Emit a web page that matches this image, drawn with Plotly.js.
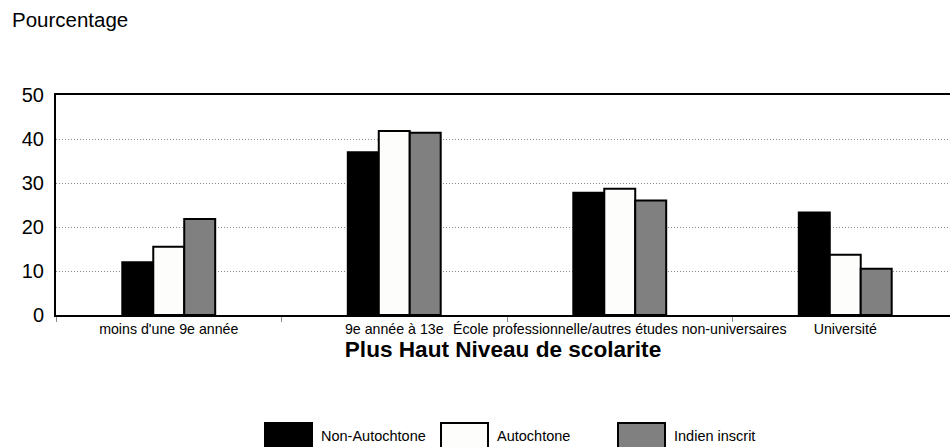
<!DOCTYPE html>
<html>
<head>
<meta charset="utf-8">
<script src="https://cdn.plot.ly/plotly-3.0.1.min.js"></script>
<style>
html,body{margin:0;padding:0;background:#fff;overflow:hidden;}
#chart{width:950px;height:447px;}
</style>
</head>
<body>
<div id="chart"></div>
<script>
// ---- data ----
const categories = [
  "moins d'une 9e année",
  "9e année à 13e",
  "École professionnelle/autres études non-universaires",
  "Université"
];
const seriesNames = ["Non-Autochtone", "Autochtone", "Indien inscrit"];
const nonAutochtone = [12.0, 37.0, 27.8, 23.3];
const autochtone = [15.5, 41.8, 28.7, 13.7];
const indienInscrit = [21.8, 41.4, 26.0, 10.5];
const yTicks = [0, 10, 20, 30, 40, 50];
const yTitle = "Pourcentage";
const xTitle = "Plus Haut Niveau de scolarite";

// ---- styling ----
const colors = ["#000000", "#fdfdfb", "#808080"];
const font = "Liberation Sans, Arial, sans-serif";
const W = 950, H = 447;
const M = {l: 56, r: 0, t: 95, b: 132};
const plotW = W - M.l - M.r, plotH = H - M.t - M.b;
const px2x = x => (x - M.l) / plotW;
const px2y = y => (H - M.b - y) / plotH;

const seriesValues = [nonAutochtone, autochtone, indienInscrit];
const traces = seriesValues.map((vals, i) => ({
  type: 'bar',
  name: seriesNames[i],
  x: categories,
  y: vals,
  marker: {color: colors[i], line: {color: '#000', width: 2}},
  showlegend: false,
  hoverinfo: 'x+y'
}));

// custom legend (large swatches)
const legendX = [265, 441, 618];
const shapes = [];
const annotations = [];
seriesNames.forEach((nm, i) => {
  shapes.push({
    type: 'rect', xref: 'paper', yref: 'paper',
    x0: px2x(legendX[i]), x1: px2x(legendX[i] + 47),
    y0: px2y(423), y1: px2y(452),
    fillcolor: colors[i], line: {color: '#000', width: 2}
  });
  annotations.push({
    xref: 'paper', yref: 'paper',
    x: px2x(legendX[i] + 54), y: px2y(436),
    xanchor: 'left', yanchor: 'middle',
    text: nm, showarrow: false,
    font: {family: font, size: 14.5, color: '#000'}
  });
});

const layout = {
  width: W, height: H,
  margin: M,
  paper_bgcolor: '#fff', plot_bgcolor: '#fff',
  font: {family: font, color: '#000'},
  barmode: 'group',
  bargap: 0.588,
  bargroupgap: 0,
  title: {
    text: yTitle, xref: 'container', yref: 'container',
    x: 12 / W, xanchor: 'left', y: 1 - 20 / H, yanchor: 'middle',
    font: {family: font, size: 20.5, color: '#000'}
  },
  xaxis: {
    type: 'category',
    range: [-0.5, 3.5 - (958 - 950) / 225.5],
    showline: true, linecolor: '#000', linewidth: 2, mirror: true,
    ticks: 'outside', tickson: 'boundaries', ticklen: 5, tickcolor: '#888', tickwidth: 1,
    tickangle: 0,
    tickfont: {family: font, size: 14.2, color: '#000'},
    showgrid: false, zeroline: false,
    title: {text: '<b>' + xTitle + '</b>', standoff: 5,
            font: {family: font, size: 22.6, color: '#000'}},
    automargin: false
  },
  yaxis: {
    range: [0, 50],
    tickvals: yTicks,
    showline: true, linecolor: '#000', linewidth: 2,
    ticks: '',
    ticklabelstandoff: 6,
    tickfont: {family: font, size: 20, color: '#000'},
    showgrid: true, gridcolor: '#888', griddash: '1px,2px', gridwidth: 1,
    zeroline: false,
    automargin: false
  },
  shapes: shapes,
  annotations: annotations
};

Plotly.newPlot('chart', traces, layout, {displayModeBar: false, staticPlot: true});
</script>
</body>
</html>
